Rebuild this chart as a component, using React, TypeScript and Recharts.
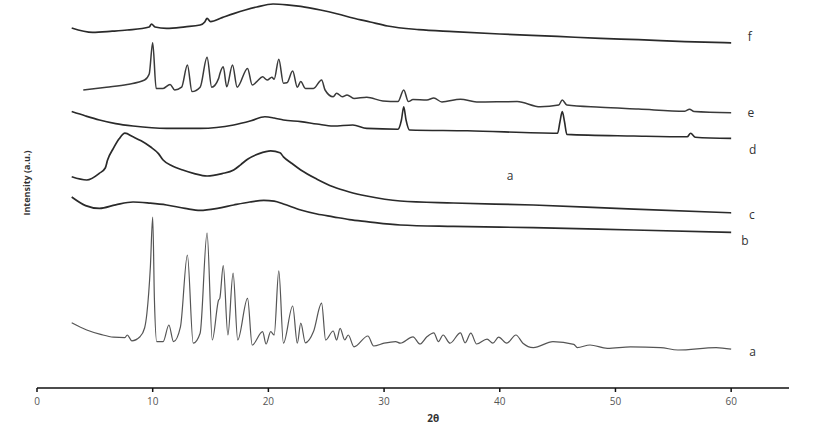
import { LineChart, Line, XAxis, YAxis, ReferenceDot } from "recharts";

// XRD patterns, [2θ, intensity (a.u., stacked with offsets)]
const patternA: [number, number][] = [
  [3.0, 16.3], [4.3, 14.5], [5.5, 13.4], [6.6, 12.7], [7.6, 12.6], [7.8, 13.25], [8.2, 11.8],
  [8.9, 12.8], [9.3, 15], [9.5, 18.7], [9.8, 30.3], [10.0, 42.7], [10.15, 22], [10.35, 11.6],
  [10.9, 11.6], [11.4, 15.75], [11.8, 11.6], [12.4, 15.3], [13.0, 33.25], [13.5, 11.2], [14.1, 13.7],
  [14.7, 38.7], [15.15, 12], [15.7, 22], [15.8, 22.4], [16.1, 30.6], [16.5, 13.25], [16.95, 28.7],
  [17.35, 12], [18.2, 22.4], [18.6, 10.75], [19.5, 14.1], [19.8, 11], [20.2, 14.1], [20.5, 13.25],
  [20.9, 29.3], [21.3, 11.2], [22.1, 20.5], [22.5, 11.2], [22.8, 16.2], [23.2, 11.3], [23.9, 14.1],
  [24.6, 21.2], [24.95, 12], [25.6, 14.25], [25.9, 12], [26.2, 14.9], [26.6, 12], [26.9, 13.25],
  [27.4, 10.3], [28.6, 13], [29.1, 10.5], [30, 11.2], [31, 11.6], [31.4, 11.2], [32.5, 12.8],
  [33.1, 11], [33.7, 12.8], [34.3, 13.8], [34.7, 11.6], [35.1, 13.25], [35.7, 11.2], [36.6, 13.8],
  [37.0, 11.3], [37.5, 13.7], [38.0, 11], [38.9, 12.2], [39.4, 11.2], [39.9, 12.7], [40.6, 11.2],
  [41.4, 13.25], [42.0, 11.2], [42.9, 10.1], [44.6, 11.6], [46.4, 10.9], [46.7, 10.1], [47.8, 10.75],
  [49.3, 9.9], [51.3, 10.3], [53.9, 10.1], [55.4, 9.5], [58.7, 10.1], [60, 9.7],
];

const patternB: [number, number][] = [
  [3.0, 47.75], [4.2, 45.6], [5.4, 44.9], [6.8, 45.8], [8.3, 46.5], [9.8, 46.2], [11.2, 45.75],
  [12.8, 44.9], [14.1, 44.4], [15.6, 44.9], [17, 45.75], [18.4, 46.5], [19.6, 46.9], [20.5, 46.7],
  [21.3, 46], [22.8, 44.5], [24.2, 43.5], [25.6, 42.8], [27, 42.1], [28.5, 41.6], [31.4, 40.75],
  [36, 40.4], [42.9, 40.1], [51.6, 39.5], [60, 38.9],
];

const patternC: [number, number][] = [
  [3.0, 52.8], [4.3, 52], [5.4, 53.7], [5.9, 55], [6.1, 57], [6.6, 59.9], [7.1, 62.3], [7.6, 63.7],
  [8.3, 62.8], [9.0, 61.8], [9.8, 60.3], [10.5, 58.6], [10.9, 57], [11.7, 55.5], [12.6, 54.5],
  [13.6, 53.6], [14.7, 53], [16, 53.6], [17, 54.5], [17.6, 55.8], [18.2, 57.2], [19.2, 58.6],
  [20.2, 59.3], [21.0, 58.8], [21.3, 57.8], [22.0, 56.2], [22.8, 54.5], [24.2, 52.2], [25.6, 50.3],
  [27, 49], [28.5, 48], [31.4, 46.75], [36, 46.25], [42.9, 45.75], [51.6, 44.7], [60, 43.8],
];

const patternD: [number, number][] = [
  [3.0, 69.1], [4.2, 68], [5.4, 67], [6.8, 66.1], [8.3, 65.5], [11.2, 64.9], [14.1, 64.9],
  [17, 65.75], [18.5, 66.8], [19.7, 67.8], [20.5, 67.5], [21.3, 67], [22.8, 66.6], [24.2, 66],
  [25.6, 65.5], [27.3, 65.75], [28.5, 64.9], [31.2, 64.7], [31.5, 67], [31.7, 70.3], [31.9, 67],
  [32.2, 64.5], [37.2, 64.3], [45.0, 63.7], [45.2, 66.5], [45.4, 69.1], [45.6, 66.5], [45.8, 63.4],
  [51.6, 63], [56.2, 62.8], [56.5, 63.7], [56.9, 62.7], [60, 62.4],
];

const patternE: [number, number][] = [
  [4.0, 74.5], [6, 75.2], [7.8, 75.9], [9.3, 77], [9.7, 78.5], [10.0, 86.3], [10.3, 74.9],
  [10.9, 74.9], [11.5, 75.9], [11.9, 74.5], [12.5, 75.2], [13.0, 80.75], [13.4, 74.1], [14.1, 75.2],
  [14.7, 82.7], [15.1, 75.2], [15.7, 77.4], [15.8, 78.5], [16.1, 80.3], [16.4, 75.3], [16.9, 80.75],
  [17.3, 75.2], [18.2, 79.9], [18.6, 75.75], [19.0, 76.6], [19.5, 77.8], [19.9, 77], [20.3, 77.7],
  [20.5, 77.2], [20.9, 82.2], [21.3, 76.2], [21.6, 76.3], [22.1, 79.25], [22.5, 75.2], [22.8, 76.6],
  [23.2, 74.9], [23.9, 74.9], [24.6, 77], [24.9, 74.5], [25.6, 72.8], [25.9, 73.7], [26.4, 72.8],
  [26.8, 73.25], [27.4, 72.4], [28.5, 72.7], [29.9, 71.75], [31.2, 71.6], [31.7, 74.5], [32.1, 71.6],
  [32.5, 72.1], [33.7, 72], [34.3, 72.5], [35, 71.5], [36.6, 72.2], [38, 71.5], [41.5, 71.6],
  [43.5, 70.3], [45.1, 70.75], [45.4, 72], [45.8, 70.75], [48.7, 70.2], [52, 69.75], [56, 69.2],
  [56.4, 69.7], [56.8, 69.1], [60, 68.8],
];

const patternF: [number, number][] = [
  [3, 90], [4.8, 88.9], [6.5, 89.2], [7.8, 89.5], [9.7, 90.25], [9.9, 91], [10.2, 90.25],
  [11.2, 89.9], [12.8, 90.3], [14.1, 90.75], [14.5, 91.5], [14.7, 92.4], [15, 91.6], [16, 92.6],
  [17, 93.6], [18, 94.5], [19, 95.25], [20.4, 96], [21.6, 95.8], [22.8, 95.4], [24.5, 94.5],
  [26, 93.5], [27.3, 92.5], [28.8, 91.5], [30.3, 90.5], [33, 89.6], [36, 89.1], [40, 88.5],
  [45, 87.9], [48.7, 87.4], [52, 87.1], [56, 86.6], [60, 86.3],
];

const xTicks = [0, 10, 20, 30, 40, 50, 60];

// curve labels: [text, 2θ, intensity]
const curveLabels: [string, number, number][] = [
  ["f", 61.6, 87.75],
  ["e", 61.7, 68.75],
  ["d", 61.85, 59.5],
  ["c", 61.8, 43.25],
  ["b", 61.2, 36.75],
  ["a", 61.85, 9],
  ["a", 40.9, 53],
];

const toPoints = (p: [number, number][]) => p.map(([t, v]) => ({ t, v }));

const series = [
  { key: "a", data: toPoints(patternA), color: "#555", width: 1.2 },
  { key: "b", data: toPoints(patternB), color: "#2a2a2a", width: 1.7 },
  { key: "c", data: toPoints(patternC), color: "#2a2a2a", width: 1.7 },
  { key: "d", data: toPoints(patternD), color: "#2a2a2a", width: 1.6 },
  { key: "e", data: toPoints(patternE), color: "#3a3a3a", width: 1.5 },
  { key: "f", data: toPoints(patternF), color: "#2a2a2a", width: 1.7 },
];

const FONT = "'Open Sans', 'Noto Sans', sans-serif";

export default function App() {
  return (
    <div style={{ width: 820, height: 430, background: "#fff" }}>
      <style>{`body{margin:0}`}</style>
      <LineChart width={820} height={430} margin={{ top: 0, right: 31, bottom: 0, left: 0 }}>
        <XAxis
          type="number"
          dataKey="t"
          domain={[0, 65]}
          ticks={xTicks}
          allowDuplicatedCategory={false}
          height={42}
          tickSize={4}
          tickMargin={6}
          stroke="#111"
          strokeWidth={1.5}
          tick={{ fill: "#555", fontSize: 10, fontFamily: FONT }}
          label={{
            content: (props: any) => {
              const vb = props.viewBox;
              return (
                <text
                  x={vb.x + vb.width * 0.527}
                  y={vb.y + 34}
                  textAnchor="middle"
                  fontFamily={FONT}
                  fontSize={10}
                  fontWeight="bold"
                  fill="#333"
                >
                  2θ
                </text>
              );
            },
          }}
        />
        <YAxis
          type="number"
          domain={[0, 97]}
          width={37}
          axisLine={false}
          tickLine={false}
          tick={false}
          label={{
            content: () => (
              <text
                x={30}
                y={183}
                transform="rotate(-90 30 183)"
                textAnchor="middle"
                fontFamily={FONT}
                fontSize={9}
                fontWeight="bold"
                fill="#333"
              >
                Intensity (a.u.)
              </text>
            ),
          }}
        />
        {series.map((s) => (
          <Line
            key={s.key}
            data={s.data}
            dataKey="v"
            type="monotone"
            dot={false}
            stroke={s.color}
            strokeWidth={s.width}
            isAnimationActive={false}
          />
        ))}
        {curveLabels.map(([text, t, v], i) => (
          <ReferenceDot
            key={i}
            x={t}
            y={v}
            r={0}
            fill="none"
            stroke="none"
            label={{ value: text, position: "center", fontSize: 12, fontFamily: FONT, fill: "#333" }}
          />
        ))}
      </LineChart>
    </div>
  );
}
